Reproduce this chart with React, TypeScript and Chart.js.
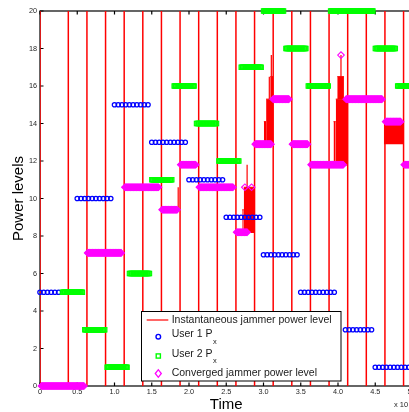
import React, { useEffect, useRef } from 'react';
import { Chart, registerables } from 'chart.js';

Chart.register(...registerables);

// Time axis is in units of 10^4.
const timeMin = 0;
const timeMax = 5;
const powerMin = 0;
const powerMax = 20;

// Instantaneous jammer power: slot boundaries (where it sweeps 20 -> 0) and level held in each slot
const slotBoundaries = [0.38, 0.63, 0.88, 1.13, 1.38, 1.63, 1.88, 2.13, 2.38, 2.63, 2.88, 3.13, 3.38, 3.63, 3.88, 4.13, 4.38, 4.63, 4.88];
const slotJammerLevel = [0, 0, 7.1, 7.1, 10.6, 10.6, 9.4, 11.8, 10.6, 10.6, 8.2, 12.9, 15.3, 12.9, 11.8, 11.8, 15.3, 15.3, 14.1, 11.8];

// Rapid oscillation bursts of the instantaneous jammer power (envelope low..high)
const burstStart = [2.715, 2.735, 3.005, 3.035, 3.09, 3.94, 3.97, 3.99, 4.615];
const burstEnd = [2.735, 2.885, 3.035, 3.13, 3.13, 3.97, 4.125, 4.08, 4.875];
const burstLow = [8.2, 8.2, 12.9, 12.9, 15.3, 11.8, 11.8, 15.3, 12.9];
const burstHigh = [9.4, 10.6, 14.1, 15.3, 16.5, 14.1, 15.3, 16.5, 14.1];

// Isolated jumps of the instantaneous jammer power
const spikeTime = [1.855, 2.78, 3.078, 3.105, 4.04];
const spikeFrom = [9.4, 10.6, 15.3, 16.5, 16.5];
const spikeTo = [10.6, 11.8, 16.5, 17.65, 17.65];

// User 1 Px
const user1Level = [5, 10, 15, 13, 11, 9, 7, 5, 3, 1];
const user1Start = [0, 0.5, 1.0, 1.5, 2.0, 2.5, 3.0, 3.5, 4.1, 4.5];
const user1End = [0.25, 0.95, 1.45, 1.95, 2.45, 2.95, 3.45, 3.95, 4.45, 5.0];

// User 2 Px
const user2Level = [5, 3, 1, 6, 11, 16, 14, 12, 17, 20, 18, 16, 20, 20, 18, 16];
const user2Start = [0.3, 0.6, 0.9, 1.2, 1.5, 1.8, 2.1, 2.4, 2.7, 3.0, 3.3, 3.6, 3.9, 4.2, 4.5, 4.8];
const user2End = [0.57, 0.87, 1.17, 1.47, 1.77, 2.07, 2.37, 2.67, 2.97, 3.27, 3.57, 3.87, 4.17, 4.47, 4.77, 5.0];

// Converged jammer power level
const convergedLevel = [0, 7.1, 10.6, 9.4, 11.8, 10.6, 8.2, 12.9, 15.3, 12.9, 11.8, 15.3, 14.1, 11.8];
const convergedStart = [0.02, 0.64, 1.14, 1.64, 1.89, 2.14, 2.64, 2.89, 3.13, 3.39, 3.64, 4.11, 4.64, 4.89];
const convergedEnd = [0.59, 1.09, 1.59, 1.84, 2.09, 2.59, 2.78, 3.1, 3.34, 3.59, 4.07, 4.59, 4.84, 5.0];
const convergedExtraTime = [2.75, 2.84, 4.04];
const convergedExtraLevel = [10.6, 10.6, 17.65];

const legendLabels = ['Instantaneous jammer power level', 'User 1 P', 'User 2 P', 'Converged jammer power level'];
const legendSubscripts = ['', 'x', 'x', ''];

const RED = '#ff0000';
const BLUE = '#0000ff';
const GREEN = '#00ff00';
const MAGENTA = '#ff00ff';
const FONT = '"Liberation Sans", Arial, Helvetica, sans-serif';

type P = { x: number; y: number | null };

function plateauPoints(starts: number[], ends: number[], levels: number[], step: number): P[] {
  const pts: P[] = [];
  for (let i = 0; i < levels.length; i++) {
    const n = Math.max(1, Math.round((ends[i] - starts[i]) / step));
    for (let j = 0; j <= n; j++) {
      pts.push({ x: starts[i] + ((ends[i] - starts[i]) * j) / n, y: levels[i] });
    }
  }
  return pts;
}

function jammerLine(): P[] {
  const pts: P[] = [
    { x: timeMin, y: slotJammerLevel[0] },
    { x: timeMin, y: powerMax },
    { x: timeMin, y: powerMin },
    { x: timeMin, y: slotJammerLevel[0] },
  ];
  slotBoundaries.forEach((b, k) => {
    pts.push({ x: b, y: slotJammerLevel[k] }, { x: b, y: powerMax }, { x: b, y: powerMin }, { x: b, y: slotJammerLevel[k + 1] });
  });
  pts.push({ x: timeMax, y: slotJammerLevel[slotJammerLevel.length - 1] });
  return pts;
}

function spikePoints(): P[] {
  const pts: P[] = [];
  spikeTime.forEach((t, i) => {
    pts.push({ x: t, y: spikeFrom[i] }, { x: t, y: spikeTo[i] }, { x: t, y: null });
  });
  return pts;
}

const framePlugin = {
  id: 'frame',
  beforeDatasetsDraw(chart: any) {
    const { ctx, chartArea: a, scales } = chart;
    ctx.save();
    ctx.strokeStyle = '#000';
    ctx.lineWidth = 1.2;
    ctx.strokeRect(a.left, a.top, a.right - a.left, a.bottom - a.top);
    const tl = 3.5;
    ctx.beginPath();
    scales.x.ticks.forEach((t: any) => {
      const px = scales.x.getPixelForValue(t.value);
      ctx.moveTo(px, a.bottom);
      ctx.lineTo(px, a.bottom - tl);
      ctx.moveTo(px, a.top);
      ctx.lineTo(px, a.top + tl);
    });
    scales.y.ticks.forEach((t: any) => {
      const py = scales.y.getPixelForValue(t.value);
      ctx.moveTo(a.left, py);
      ctx.lineTo(a.left + tl, py);
      ctx.moveTo(a.right, py);
      ctx.lineTo(a.right - tl, py);
    });
    ctx.stroke();
    ctx.restore();
  },
  afterDraw(chart: any) {
    const { ctx, chartArea: a } = chart;
    ctx.save();
    // exponent label
    ctx.fillStyle = '#262626';
    ctx.textBaseline = 'middle';
    ctx.textAlign = 'left';
    ctx.font = `7.5px ${FONT}`;
    const ex = a.right - 18.5;
    ctx.fillText('x 10', ex, 405);
    const w10 = ctx.measureText('x 10').width;
    ctx.font = `6px ${FONT}`;
    ctx.fillText('4', ex + w10 + 1, 401);

    // legend
    const lx = 141.5, ly = 311.5, lw = 199.5, lh = 69.5;
    ctx.fillStyle = '#fff';
    ctx.fillRect(lx, ly, lw, lh);
    ctx.strokeStyle = '#000';
    ctx.lineWidth = 1;
    ctx.strokeRect(lx, ly, lw, lh);

    const markerY = [320, 336.7, 356, 373.5];
    const textY = [320, 334.5, 354, 373.5];
    const mx = 158.3;
    const tx = 171.7;

    // red line sample
    ctx.strokeStyle = RED;
    ctx.lineWidth = 1.2;
    ctx.beginPath();
    ctx.moveTo(146.7, markerY[0]);
    ctx.lineTo(168.3, markerY[0]);
    ctx.stroke();

    // blue circle
    ctx.strokeStyle = BLUE;
    ctx.lineWidth = 1.4;
    ctx.beginPath();
    ctx.arc(mx, markerY[1], 2.3, 0, Math.PI * 2);
    ctx.stroke();

    // green square
    ctx.strokeStyle = GREEN;
    ctx.lineWidth = 1.4;
    ctx.strokeRect(mx - 2.1, markerY[2] - 2.1, 4.2, 4.2);

    // magenta diamond
    ctx.strokeStyle = MAGENTA;
    ctx.lineWidth = 1.3;
    ctx.beginPath();
    ctx.moveTo(mx - 3, markerY[3]);
    ctx.lineTo(mx, markerY[3] - 3.8);
    ctx.lineTo(mx + 3, markerY[3]);
    ctx.lineTo(mx, markerY[3] + 3.8);
    ctx.closePath();
    ctx.stroke();

    ctx.fillStyle = '#1a1a1a';
    ctx.textBaseline = 'middle';
    legendLabels.forEach((lab, i) => {
      ctx.font = `10.5px ${FONT}`;
      ctx.fillText(lab, tx, textY[i]);
      if (legendSubscripts[i]) {
        const w = ctx.measureText(lab).width;
        ctx.font = `7.5px ${FONT}`;
        ctx.fillText(legendSubscripts[i], tx + w + 0.5, textY[i] + 7);
      }
    });
    ctx.restore();
  },
};

export default function App() {
  const ref = useRef<HTMLCanvasElement>(null);

  useEffect(() => {
    const canvas = ref.current;
    if (!canvas) return;
    Chart.defaults.font.family = FONT;

    const burstSets = burstStart.map((s, i) => ({
      type: 'line' as const,
      data: [
        { x: s, y: burstHigh[i] },
        { x: burstEnd[i], y: burstHigh[i] },
      ],
      borderColor: RED,
      backgroundColor: RED,
      borderWidth: 1,
      pointRadius: 0,
      fill: { value: burstLow[i] },
      order: 6,
    }));

    const chart = new Chart(canvas, {
      type: 'line',
      data: {
        datasets: [
          {
            label: 'Converged jammer power level',
            data: [
              ...plateauPoints(convergedStart, convergedEnd, convergedLevel, 0.01),
              ...convergedExtraTime.map((t, i) => ({ x: t, y: convergedExtraLevel[i] })),
            ],
            showLine: false,
            pointStyle: 'rectRot',
            pointRadius: 3.3,
            pointHoverRadius: 3.3,
            pointBorderWidth: 1.1,
            pointBorderColor: MAGENTA,
            pointBackgroundColor: 'rgba(0,0,0,0)',
            clip: false as any,
            order: 1,
          },
          {
            label: 'User 2 Px',
            data: plateauPoints(user2Start, user2End, user2Level, 0.01),
            showLine: false,
            pointStyle: 'rect',
            pointRadius: 3,
            pointHoverRadius: 3,
            pointBorderWidth: 1.1,
            pointBorderColor: GREEN,
            pointBackgroundColor: 'rgba(0,0,0,0)',
            clip: false as any,
            order: 2,
          },
          {
            label: 'User 1 Px',
            data: plateauPoints(user1Start, user1End, user1Level, 0.05),
            showLine: false,
            pointStyle: 'circle',
            pointRadius: 2.2,
            pointHoverRadius: 2.2,
            pointBorderWidth: 1.25,
            pointBorderColor: BLUE,
            pointBackgroundColor: 'rgba(0,0,0,0)',
            clip: false as any,
            order: 3,
          },
          {
            label: 'Instantaneous jammer power level',
            data: jammerLine(),
            borderColor: RED,
            borderWidth: 1.5,
            pointRadius: 0,
            fill: false,
            order: 4,
          },
          {
            label: 'spikes',
            data: spikePoints(),
            borderColor: RED,
            borderWidth: 1.2,
            pointRadius: 0,
            spanGaps: false,
            fill: false,
            order: 5,
          },
          ...burstSets,
        ] as any,
      },
      options: {
        responsive: false,
        maintainAspectRatio: false,
        devicePixelRatio: 1,
        animation: false,
        events: [],
        layout: { padding: { top: 11, right: 17.5, left: 0, bottom: 0 } },
        plugins: {
          legend: { display: false },
          tooltip: { enabled: false },
        },
        scales: {
          x: {
            type: 'linear',
            min: timeMin,
            max: timeMax,
            grid: { display: false, drawTicks: false },
            border: { display: false },
            ticks: {
              stepSize: 0.5,
              autoSkip: false,
              maxRotation: 0,
              padding: 2,
              color: '#262626',
              font: { size: 7.3, family: FONT },
            },
            title: {
              display: true,
              text: 'Time',
              color: '#000',
              font: { size: 15, family: FONT, lineHeight: 0.96 },
              padding: { top: 0, bottom: 0 },
            },
            afterFit: (s: any) => {
              s.height = 26;
            },
          },
          y: {
            type: 'linear',
            min: powerMin,
            max: powerMax,
            grid: { display: false, drawTicks: false },
            border: { display: false },
            ticks: {
              stepSize: 2,
              autoSkip: false,
              padding: 3,
              color: '#262626',
              font: { size: 7.3, family: FONT },
            },
            title: {
              display: true,
              text: 'Power levels',
              color: '#000',
              font: { size: 15, family: FONT, lineHeight: 1.2 },
              padding: { top: 9.8, bottom: 0 },
            },
            afterFit: (s: any) => {
              s.width = 40;
            },
          },
        },
      },
      plugins: [framePlugin],
    } as any);

    return () => chart.destroy();
  }, []);

  return (
    <div
      style={{
        position: 'fixed',
        left: 0,
        top: 0,
        width: 409,
        height: 412,
        overflow: 'hidden',
        background: '#fff',
      }}
    >
      <canvas ref={ref} width={430} height={412} style={{ display: 'block', width: 430, height: 412 }} />
    </div>
  );
}
